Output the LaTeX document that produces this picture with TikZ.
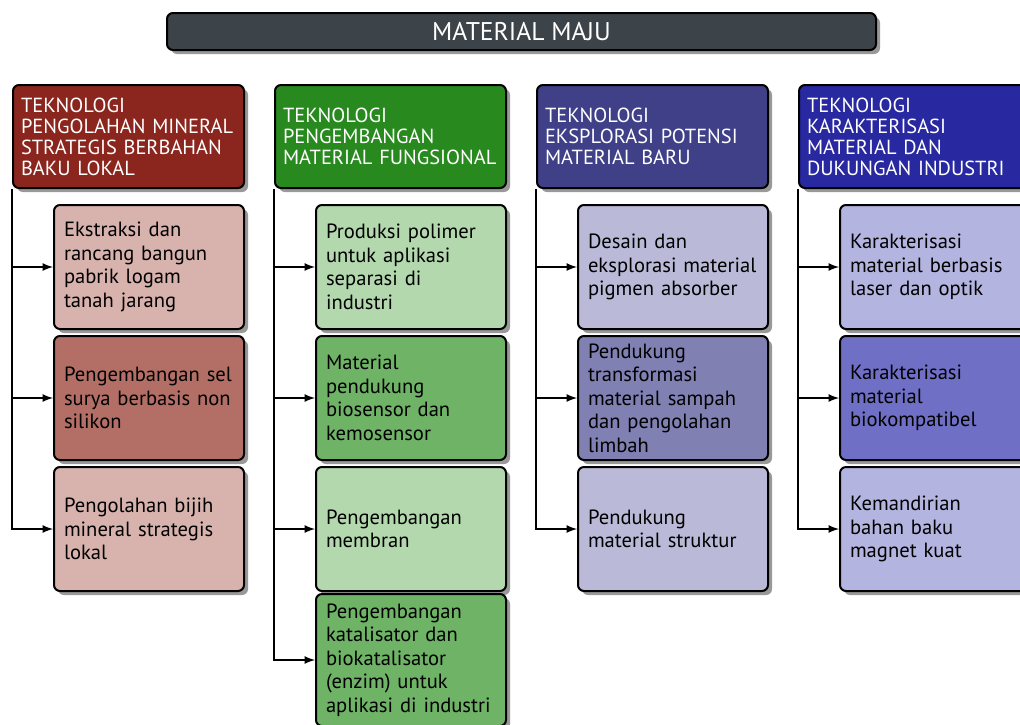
\documentclass[tikz,border=0pt]{standalone}
\usepackage{fontspec}
\setmainfont{PT Sans}
\usetikzlibrary{shadows}

\definecolor{titlegray}{RGB}{61,68,73}
\definecolor{redhead}{RGB}{139,38,30}
\definecolor{redlight}{RGB}{216,179,174}
\definecolor{reddark}{RGB}{179,111,102}
\definecolor{greenhead}{RGB}{40,138,30}
\definecolor{greenlight}{RGB}{179,216,174}
\definecolor{greendark}{RGB}{111,179,102}
\definecolor{slatehead}{RGB}{64,64,136}
\definecolor{slatelight}{RGB}{186,186,216}
\definecolor{slatedark}{RGB}{128,128,179}
\definecolor{bluehead}{RGB}{40,40,160}
\definecolor{bluelight}{RGB}{180,180,224}
\definecolor{bluedark}{RGB}{111,111,198}

\tikzset{
	box/.style={draw=black, line width=1pt, rounded corners=3pt,
		drop shadow={shadow xshift=2pt, shadow yshift=-2pt, fill=black!40, opacity=1}},
	titlebox/.style={box, fill=titlegray, text=white, minimum width=354.5pt, minimum height=18.5pt,
		font=\fontsize{12.8}{14}\selectfont},
	headbox/.style={box, anchor=north west, text=white, text width=107.5pt, inner xsep=4pt,
		minimum height=51.5pt, align=left, font=\fontsize{10.2}{10.5}\selectfont},
	itembox/.style={box, anchor=west, text width=85pt, inner xsep=5pt, inner ysep=2pt,
		minimum height=62pt, align=left, font=\fontsize{10.3}{11.75}\selectfont},
	link/.style={->, line width=0.8pt}
}

\begin{document}
\begin{tikzpicture}
	[
	x=0.5pt, y=-0.5pt, >=latex
	%Pixelraster: x nach rechts, y nach unten
	]
	\useasboundingbox (0,0) rectangle (1020,724);
	
	%Titel
	\node[titlebox] (judul) at (521.5,31.5) {MATERIAL MAJU};
	
	%Spalte 1
	\begin{scope}[xshift=0pt]
		\node[headbox, fill=redhead] (h1) at (12,84) {TEKNOLOGI\\PENGOLAHAN MINERAL\\STRATEGIS BERBAHAN\\BAKU LOKAL};
		\node[itembox, fill=redlight] (h1a) at (53,267) {Ekstraksi dan\\rancang bangun\\pabrik logam\\tanah jarang};
		\node[itembox, fill=reddark] (h1b) at (53,398) {Pengembangan sel\\surya berbasis non\\silikon};
		\node[itembox, fill=redlight] (h1c) at (53,529) {Pengolahan bijih\\mineral strategis\\lokal};
		\foreach \k in {a,b,c}
			\draw[link] (h1.south west) |- (h1\k.west);
	\end{scope}
	
	%Spalte 2
	\begin{scope}[xshift=131pt]
		\node[headbox, fill=greenhead] (h2) at (12,84) {TEKNOLOGI\\PENGEMBANGAN\\MATERIAL FUNGSIONAL};
		\node[itembox, fill=greenlight] (h2a) at (53,267) {Produksi polimer\\untuk aplikasi\\separasi di\\industri};
		\node[itembox, fill=greendark] (h2b) at (53,398) {Material\\pendukung\\biosensor dan\\kemosensor};
		\node[itembox, fill=greenlight] (h2c) at (53,529) {Pengembangan\\membran};
		\node[itembox, fill=greendark, minimum height=66pt] (h2d) at (53,660) {Pengembangan\\katalisator dan\\biokatalisator\\(enzim) untuk\\aplikasi di industri};
		\foreach \k in {a,b,c,d}
			\draw[link] (h2.south west) |- (h2\k.west);
	\end{scope}
	
	%Spalte 3
	\begin{scope}[xshift=262pt]
		\node[headbox, fill=slatehead] (h3) at (12,84) {TEKNOLOGI\\EKSPLORASI POTENSI\\MATERIAL BARU};
		\node[itembox, fill=slatelight] (h3a) at (53,267) {Desain dan\\eksplorasi material\\pigmen absorber};
		\node[itembox, fill=slatedark] (h3b) at (53,398) {Pendukung\\transformasi\\material sampah\\dan pengolahan\\limbah};
		\node[itembox, fill=slatelight] (h3c) at (53,529) {Pendukung\\material struktur};
		\foreach \k in {a,b,c}
			\draw[link] (h3.south west) |- (h3\k.west);
	\end{scope}
	
	%Spalte 4
	\begin{scope}[xshift=393pt]
		\node[headbox, fill=bluehead] (h4) at (12,84) {TEKNOLOGI\\KARAKTERISASI\\MATERIAL DAN\\DUKUNGAN INDUSTRI};
		\node[itembox, fill=bluelight] (h4a) at (53,267) {Karakterisasi\\material berbasis\\laser dan optik};
		\node[itembox, fill=bluedark] (h4b) at (53,398) {Karakterisasi\\material\\biokompatibel};
		\node[itembox, fill=bluelight] (h4c) at (53,529) {Kemandirian\\bahan baku\\magnet kuat};
		\foreach \k in {a,b,c}
			\draw[link] (h4.south west) |- (h4\k.west);
	\end{scope}
\end{tikzpicture}
\end{document}
